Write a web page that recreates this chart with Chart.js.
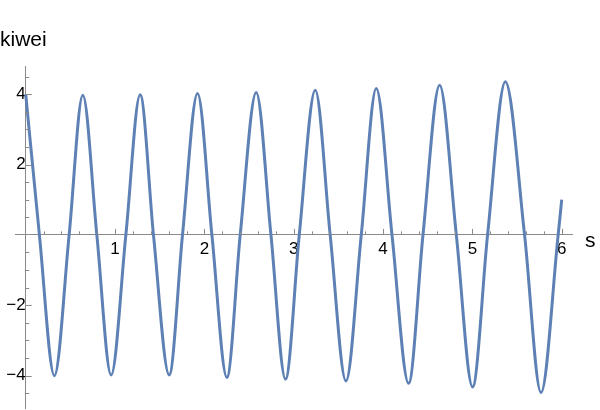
<!DOCTYPE html>
<html>
<head>
<meta charset="utf-8">
<script src="https://cdn.jsdelivr.net/npm/chart.js@4.4.1/dist/chart.umd.min.js"></script>
<style>
  html, body { margin: 0; padding: 0; background: #fff; }
  #wrap { width: 600px; height: 410px; position: relative; }
</style>
</head>
<body>
<div id="wrap"><canvas id="waveChart"></canvas></div>
<script>
// points: peaks, troughs and zero crossings
const sValues = [0, 0.153, 0.321, 0.486, 0.639, 0.796, 0.956, 1.121, 1.281, 1.43,
  1.606, 1.755, 1.923, 2.084, 2.252, 2.401, 2.58, 2.745, 2.908, 3.062,
  3.241, 3.408, 3.585, 3.756, 3.924, 4.10, 4.286, 4.447, 4.633, 4.82,
  5.002, 5.17, 5.369, 5.584, 5.768, 5.96, 6.0];
const kiweiValues = [4.0, 0, -4.0, 0, 3.97, 0, -3.98, 0, 3.98, 0,
  -3.98, 0, 4.02, 0, -4.05, 0, 4.05, 0, -4.10, 0,
  4.11, 0, -4.15, 0, 4.16, 0, -4.22, 0, 4.25, 0,
  -4.32, 0, 4.35, 0, -4.48, 0, 1.0];
const xLabels = [1, 2, 3, 4, 5, 6];
const yLabels = [-4, -2, 2, 4];

const axisColor = '#8a8a8a';
Chart.defaults.font.family = "'Liberation Sans', Arial, sans-serif";
Chart.defaults.font.size = 17;
Chart.defaults.color = '#000';

const isNear = (v, list) => list.some(n => Math.abs(v - n) < 1e-6);
const fmt = v => (v < 0 ? '\u2212' + Math.abs(v) : String(v));
// axes sit inside the plot, so they should not push the plot area in
const noPad = s => { s.paddingTop = s.paddingBottom = s.paddingLeft = s.paddingRight = 0; };

// tick marks (upward / rightward, like the original) and axis labels
const axisExtras = {
  id: 'axisExtras',
  afterDraw(chart) {
    const { ctx, scales: { x, y } } = chart;
    const x0 = x.getPixelForValue(0);
    const y0 = y.getPixelForValue(0);
    ctx.save();
    ctx.strokeStyle = axisColor;
    ctx.lineWidth = 1;
    ctx.beginPath();
    x.ticks.forEach(t => {
      if (Math.abs(t.value) < 1e-6) return;
      const px = Math.round(x.getPixelForValue(t.value)) + 0.5;
      const len = isNear(t.value, xLabels) ? 6 : 3.5;
      ctx.moveTo(px, y0);
      ctx.lineTo(px, y0 - len);
    });
    y.ticks.forEach(t => {
      if (Math.abs(t.value) < 1e-6) return;
      const py = Math.round(y.getPixelForValue(t.value)) + 0.5;
      const len = isNear(t.value, yLabels) ? 6 : 3.5;
      ctx.moveTo(x0, py);
      ctx.lineTo(x0 + len, py);
    });
    ctx.stroke();
    ctx.fillStyle = '#000';
    ctx.font = "21px 'Liberation Sans', Arial, sans-serif";
    ctx.textAlign = 'left';
    ctx.textBaseline = 'alphabetic';
    ctx.fillText('kiwei', 0, 46);
    ctx.fillText('s', chart.chartArea.right + 13, y0 + 12);
    ctx.restore();
  }
};

new Chart(document.getElementById('waveChart').getContext('2d'), {
  type: 'line',
  data: {
    datasets: [{
      label: 'kiwei',
      data: sValues.map((s, i) => ({ x: s, y: kiweiValues[i] })),
      borderColor: '#5e81b5',
      borderWidth: 3,
      pointRadius: 0,
      fill: false,
      cubicInterpolationMode: 'monotone'
    }]
  },
  options: {
    responsive: true,
    maintainAspectRatio: false,
    animation: false,
    layout: { padding: { left: 15, right: 28, top: 66, bottom: 2 } },
    plugins: { legend: { display: false }, tooltip: { enabled: false } },
    scales: {
      x: {
        type: 'linear',
        position: { y: 0 },
        min: -0.12,
        max: 6.115,
        afterFit: noPad,
        grid: { display: false, drawTicks: false },
        border: { display: true, color: axisColor, width: 1 },
        ticks: {
          stepSize: 0.2,
          includeBounds: false,
          autoSkip: false,
          maxRotation: 0,
          padding: 4,
          callback: v => (isNear(v, xLabels) ? fmt(Math.round(v)) : '')
        }
      },
      y: {
        type: 'linear',
        position: { x: 0 },
        min: -4.92,
        max: 4.8,
        afterFit: noPad,
        grid: { display: false, drawTicks: false },
        border: { display: true, color: axisColor, width: 1 },
        ticks: {
          stepSize: 0.5,
          includeBounds: false,
          autoSkip: false,
          padding: 2,
          callback: v => (isNear(v, yLabels) ? fmt(Math.round(v)) : '')
        }
      }
    }
  },
  plugins: [axisExtras]
});
</script>
</body>
</html>
